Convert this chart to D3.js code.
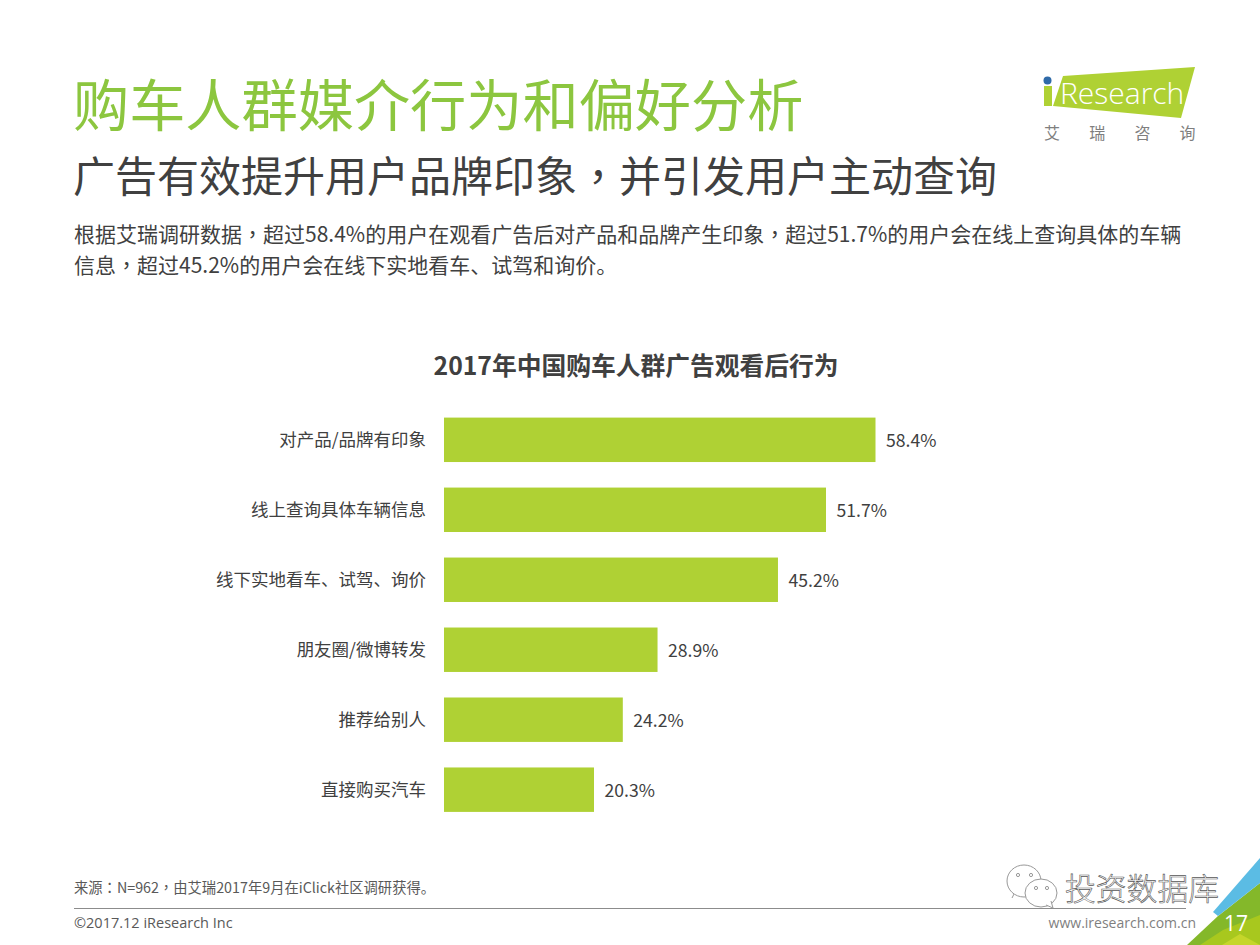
<!DOCTYPE html>
<html><head><meta charset="utf-8">
<script src="https://cdn.jsdelivr.net/npm/d3@7"></script>
<style>html,body{margin:0;padding:0;background:#fff}svg{display:block}
text{font-family:"Noto Sans CJK SC","Open Sans",sans-serif}</style>
</head><body><div id="c"></div>
<script>
const categories=["对产品/品牌有印象","线上查询具体车辆信息","线下实地看车、试驾、询价","朋友圈/微博转发","推荐给别人","直接购买汽车"];
const values=[58.4,51.7,45.2,28.9,24.2,20.3];
const title="购车人群媒介行为和偏好分析";
const subtitle="广告有效提升用户品牌印象，并引发用户主动查询";
const bodyLines=["根据艾瑞调研数据，超过58.4%的用户在观看广告后对产品和品牌产生印象，超过51.7%的用户会在线上查询具体的车辆","信息，超过45.2%的用户会在线下实地看车、试驾和询价。"];
const chartTitle="2017年中国购车人群广告观看后行为";
const sourceNote="来源：N=962，由艾瑞2017年9月在iClick社区调研获得。";
const copyright="©2017.12 iResearch Inc";
const website="www.iresearch.com.cn";
const pageNo="17";
const logoChars=["艾","瑞","咨","询"];

const svg=d3.select("#c").append("svg").attr("width",1260).attr("height",945);
const T=(x,y,s,size,fill,anchor,weight)=>{
  const t=svg.append("text").attr("x",x).attr("y",y)
    .attr("font-size",size).attr("fill",fill).attr("text-anchor",anchor||"start").attr("font-weight",weight||400);
  // full-width comma and colon sit centred in the reference, as in the TC face
  s.split(/([，：])/).forEach(p=>{
    const sp=t.append("tspan").text(p);
    if(p==="，"||p==="：") sp.style("font-family",'"Noto Sans CJK TC"');
  });
  return t;
};

T(73,126,title,56.2,"#8cc63f","start",400);
T(73,192,subtitle,42,"#404040","start",400);
bodyLines.forEach((l,i)=>T(74,242+i*31,l,21,"#404040"));
T(636,375,chartTitle,24.75,"#404040","middle",700);

const x=d3.scaleLinear().domain([0,58.4]).range([444,875.5]);
const y=d3.scaleBand().domain(categories).range([405,824.5]).paddingInner(0.365).paddingOuter(0.18);
const g=svg.append("g");
g.selectAll("rect").data(values).join("rect")
  .attr("x",x(0)).attr("y",(d,i)=>y(categories[i])).attr("height",y.bandwidth())
  .attr("width",d=>x(d)-x(0)).attr("fill","#afd134");
g.selectAll("text.v").data(values).join("text").attr("class","v")
  .attr("x",d=>x(d)+10.5).attr("y",(d,i)=>y(categories[i])+y.bandwidth()/2+7)
  .attr("font-size",17.6).attr("fill","#404040").text(d=>d.toFixed(1)+"%");
const axis=d3.axisLeft(y).tickSize(0).tickPadding(18);
const ag=svg.append("g").attr("transform","translate(444,0.5)").call(axis);
ag.select(".domain").remove();
ag.selectAll("text").attr("font-size",17.5).attr("fill","#404040")
  .style("font-family",'"Noto Sans CJK SC",sans-serif').attr("dy","0.32em");

T(74,893,sourceNote,14.3,"#595959");
T(74,928,copyright,14.5,"#595959").style("font-family",'"Open Sans",sans-serif');
T(1196,928,website,14,"#7f7f7f","end").style("font-family",'"Open Sans",sans-serif');
svg.append("line").attr("x1",74).attr("x2",1186).attr("y1",908.5).attr("y2",908.5).attr("stroke","#8c8c8c").attr("stroke-width",1);

// corner decoration
svg.append("path").attr("d","M1187 945L1218 916L1260 883V945Z").attr("fill","#84b82a");
svg.append("path").attr("d","M1213 912L1260 858V883L1218 916Z").attr("fill","#5bbce4");
svg.append("path").attr("d","M1200 945L1223 930L1260 915V945Z").attr("fill","#a8c81e");
svg.append("path").attr("d","M1222 945L1240 934L1260 945Z").attr("fill","#c5d62a");
T(1236,931,pageNo,21,"#fff","middle").style("font-family",'"Open Sans",sans-serif');

// logo
svg.append("path").attr("d","M1063 76L1195 67L1181 118L1053 106Z").attr("fill","#afd134");
svg.append("rect").attr("x",1044).attr("y",86).attr("width",8).attr("height",20).attr("fill","#afd134");
svg.append("circle").attr("cx",1047.5).attr("cy",80.5).attr("r",4).attr("fill","#2f6aa8");
T(1060,104,"Research",30,"#fff","start",300).style("font-family",'"Open Sans",sans-serif');
logoChars.forEach((c,i)=>T(1052+i*45.2,139,c,16,"#7f7f7f","middle"));

// watermark
const wm=svg.append("g").attr("fill","#fff").attr("stroke","#999").attr("stroke-width",1);
wm.append("path").attr("d","M1012 898L1015 892").attr("fill","none");
wm.append("ellipse").attr("cx",1024).attr("cy",881).attr("rx",17).attr("ry",16);
wm.append("ellipse").attr("cx",1041).attr("cy",893).attr("rx",16).attr("ry",14);
wm.append("path").attr("d","M1046 905L1053 908L1051 901");
[[1018,875],[1031,875],[1036,888],[1047,888]].forEach(p=>wm.append("circle").attr("cx",p[0]).attr("cy",p[1]).attr("r",1.6));
T(1065,900,"投资数据库",30.8,"#fff","start",300).attr("stroke","#555").attr("stroke-width",0.6);
</script></body></html>
